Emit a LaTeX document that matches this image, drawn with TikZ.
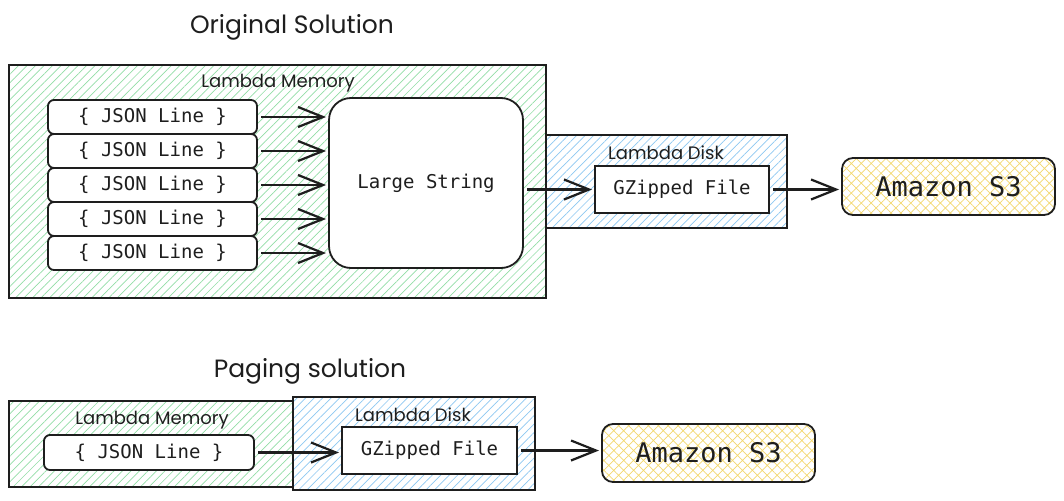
\documentclass[tikz,border=0pt]{standalone}
\usepackage{fontspec}
\newfontfamily\monof{DejaVu Sans Mono}
\newfontfamily\handf{Poppins}
\usetikzlibrary{arrows.meta,patterns.meta}
\definecolor{ink}{HTML}{1E1E1E}
\definecolor{hgreen}{HTML}{92DDA6}
\definecolor{hblue}{HTML}{8DC8F2}
\definecolor{hyellow}{HTML}{F3D86E}
\tikzset{
  every node/.style={inner sep=0pt, outer sep=0pt},
  titletext/.style={font=\handf\fontsize{25}{28}\selectfont, text=ink, anchor=base},
  zonetext/.style={font=\handf\fontsize{18}{21}\selectfont, text=ink, anchor=base},
  memzone/.style={draw=ink, line width=1.6pt,
    pattern={Lines[angle=45,distance=6pt,line width=0.7pt]}, pattern color=hgreen},
  diskzone/.style={draw=ink, line width=1.6pt, preaction={fill=white},
    pattern={Lines[angle=45,distance=6pt,line width=0.7pt]}, pattern color=hblue},
  jbox/.style={draw=ink, line width=1.8pt, fill=white, rounded corners=6pt,
    minimum width=209pt, minimum height=34pt, text=ink,
    font=\monof\fontsize{19}{22}\selectfont},
  lsbox/.style={draw=ink, line width=1.8pt, fill=white, rounded corners=22pt,
    minimum width=194pt, minimum height=170pt, text=ink,
    font=\monof\fontsize{19}{22}\selectfont},
  gzbox/.style={draw=ink, line width=1.8pt, fill=white,
    minimum width=174pt, minimum height=47pt, text=ink,
    font=\monof\fontsize{19}{22}\selectfont},
  s3box/.style={draw=ink, line width=1.8pt, rounded corners=11pt,
    preaction={fill=white},
    pattern={Hatch[angle=45,distance=7pt,line width=0.7pt]}, pattern color=hyellow,
    minimum width=213pt, minimum height=57pt, text=ink,
    font=\monof\fontsize{27}{30}\selectfont},
  arr/.style={draw=ink, line width=2.2pt,
    -{Straight Barb[length=25pt,width=20pt,line width=2.2pt]},
    shorten <=4pt, shorten >=3pt},
}
\begin{document}
\begin{tikzpicture}[x=1pt,y=-1pt]
\useasboundingbox (0,0) rectangle (1064,500);

% ---------- Original solution ----------
\node[titletext] (t1) at (292,34) {Original Solution};

\node[memzone, minimum width=537pt, minimum height=233pt] (mem1) at (277.5,181.5) {};
\node[diskzone, minimum width=241pt, minimum height=93pt] (disk1) at (666.5,181.5) {};
\node[zonetext] (mem1lab) at (278,88) {Lambda Memory};
\node[zonetext] (disk1lab) at (666,159) {Lambda Disk};

\node[jbox] (j1) at (152.5,117) {\{ JSON Line \}};
\node[jbox] (j2) at (152.5,151) {\{ JSON Line \}};
\node[jbox] (j3) at (152.5,185) {\{ JSON Line \}};
\node[jbox] (j4) at (152.5,219) {\{ JSON Line \}};
\node[jbox] (j5) at (152.5,253) {\{ JSON Line \}};

\node[lsbox] (ls) at (426,183) {Large String};
\node[gzbox] (gz1) at (682,189.5) {GZipped File};
\node[s3box] (s31) at (948.5,186.5) {Amazon S3};

\foreach \j in {j1,j2,j3,j4,j5}
  \draw[arr] (\j.east) -- (\j.east -| ls.west);
\draw[arr] (gz1.west -| ls.east) -- (gz1.west);
\draw[arr] (gz1.east) -- (gz1.east -| s31.west);

% ---------- Paging solution ----------
\node[titletext] (t2) at (310,377) {Paging solution};

\node[memzone, minimum width=284pt, minimum height=86pt] (mem2) at (151,444) {};
\node[diskzone, minimum width=242pt, minimum height=93pt] (disk2) at (414,443.5) {};
\node[zonetext] (mem2lab) at (152,424) {Lambda Memory};
\node[zonetext] (disk2lab) at (413,421) {Lambda Disk};

\node[jbox, minimum width=210pt, minimum height=35pt] (j6) at (149,452.5) {\{ JSON Line \}};
\node[gzbox, minimum width=175pt] (gz2) at (429.5,450.5) {GZipped File};
\node[s3box, minimum height=58pt] (s32) at (708.5,453) {Amazon S3};

\draw[arr] (j6.east) -- (j6.east -| gz2.west);
\draw[arr] (gz2.east) -- (gz2.east -| s32.west);
\end{tikzpicture}
\end{document}
